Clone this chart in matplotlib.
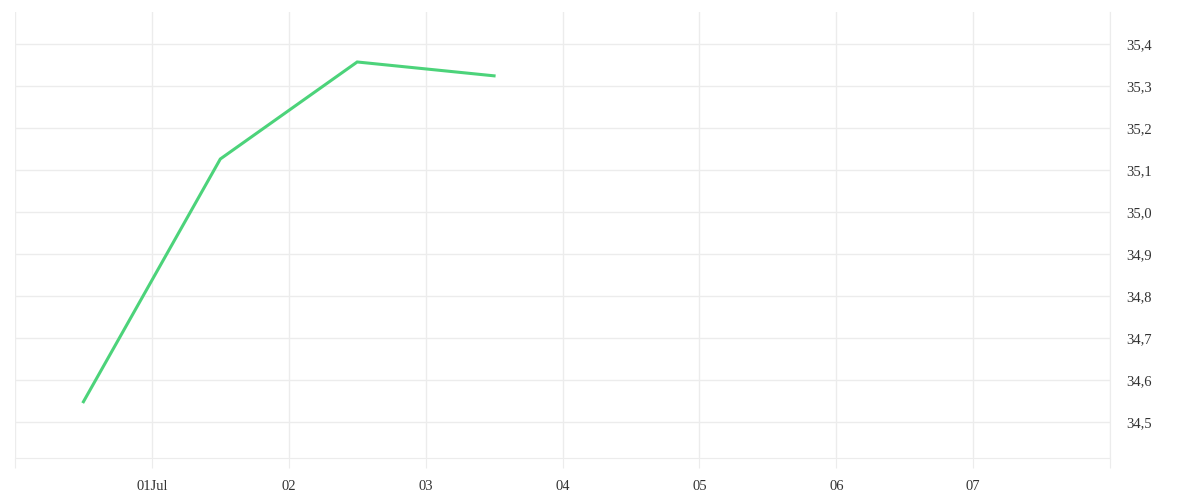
import matplotlib
matplotlib.use("Agg")
import matplotlib.pyplot as plt
import matplotlib.dates as mdates
from matplotlib.ticker import FuncFormatter
import numpy as np

# data
times = np.array(["2024-06-30T12:00", "2024-07-01T12:00", "2024-07-02T12:00", "2024-07-03T12:00"], dtype="datetime64[m]")
values = [34.548, 35.126, 35.357, 35.324]

x_start = np.datetime64("2024-06-30T00:00")
x_end = np.datetime64("2024-07-08T00:00")
y_ticks = [34.5, 34.6, 34.7, 34.8, 34.9, 35.0, 35.1, 35.2, 35.3, 35.4]

plt.rcParams['font.family'] = ['Liberation Serif', 'DejaVu Serif']

fig = plt.figure(figsize=(12, 5), dpi=100)
ax = fig.add_axes([15/1200, 42/500, 1095/1200, 446/500])

grid_col = "#ececec"
ax.plot(times, values, color="#4cd37a", lw=2.2, solid_joinstyle="miter")

ax.set_xlim(x_start, x_end)
ax.set_ylim(34.414, 35.476)

days = np.arange(x_start, x_end + np.timedelta64(1, "D"), np.timedelta64(1, "D"))
ax.set_xticks(days)
labels = []
for d in days:
    s = str(d)[:10]
    if s == "2024-07-01":
        labels.append("01Jul")
    elif s in ("2024-06-30", "2024-07-08"):
        labels.append("")
    else:
        labels.append(s[8:10])
ax.set_xticklabels(labels)

ax.set_yticks(y_ticks)
ax.yaxis.set_major_formatter(FuncFormatter(lambda v, p: f"{v:.1f}".replace(".", ",")))
ax.yaxis.tick_right()

ax.grid(True, color=grid_col, lw=1)
for s in ["top", "left"]:
    ax.spines[s].set_visible(False)
ax.spines["bottom"].set_color(grid_col)
ax.spines["right"].set_color(grid_col)

ax.tick_params(axis="x", length=7.5, color=grid_col, pad=8, labelsize=10.5, labelcolor="#333333")
ax.tick_params(axis="y", length=0, pad=12, labelsize=10.5, labelcolor="#333333")

fig.savefig("out.png", dpi=100, facecolor="white")
